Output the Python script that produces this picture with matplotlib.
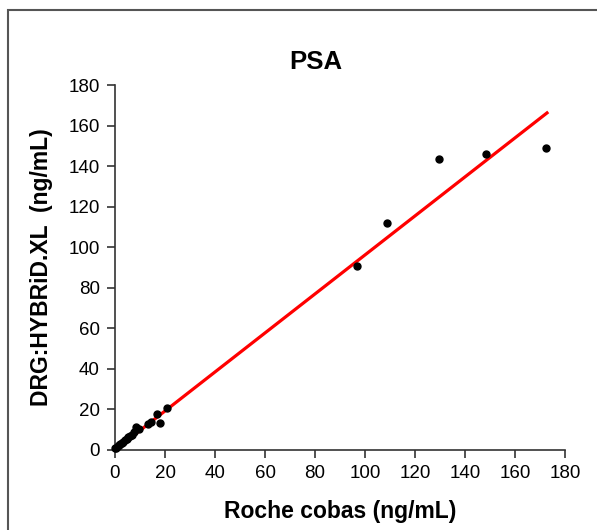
import numpy as np
import matplotlib
matplotlib.use('Agg')
import matplotlib.pyplot as plt
from matplotlib.patches import Rectangle

plt.rcParams['font.family'] = ['Liberation Sans', 'DejaVu Sans']

# Roche cobas vs DRG:HYBRiD.XL (ng/mL)
roche = [0.1, 0.5, 1.0, 1.5, 2.0, 2.6, 3.2, 4.0, 4.6, 5.2, 6.0, 6.8, 7.4, 8.4, 9.6,
         13.0, 14.2, 16.8, 17.9, 20.8, 96.8, 108.8, 129.6, 148.4, 172.4]
hybrid = [0.8, 1.0, 1.8, 2.4, 2.8, 3.4, 4.0, 4.8, 5.3, 6.2, 7.0, 7.6, 8.8, 11.2, 10.4,
          12.6, 13.8, 18.0, 13.2, 20.8, 90.5, 111.8, 143.4, 145.9, 148.9]

# regression line
slope = 0.962
intercept = 0.0
fit_x = [0, 172.8]

ticks = [0, 20, 40, 60, 80, 100, 120, 140, 160, 180]

fig = plt.figure(figsize=(5.97, 5.30), dpi=100)
fig.patches.append(Rectangle((8 / 597, -0.1), 1.2, 1 - 10 / 530 + 0.1,
                             transform=fig.transFigure, fill=False,
                             edgecolor='#555555', linewidth=1.5))

ax = fig.add_axes([115 / 597, 1 - 450 / 530, 450 / 597, 365 / 530])
ax.plot(fit_x, [slope * v + intercept for v in fit_x], color='#ff0000', linewidth=2.3, zorder=3)
ax.plot(roche, hybrid, 'o', color='black', markersize=5, zorder=4, clip_on=False)

ax.set_xlim(0, 180)
ax.set_ylim(0, 180)
ax.set_xticks(ticks)
ax.set_yticks(ticks)
ax.spines['top'].set_visible(False)
ax.spines['right'].set_visible(False)
for s in ['left', 'bottom']:
    ax.spines[s].set_color('#333333')
    ax.spines[s].set_linewidth(1.2)
ax.tick_params(direction='out', length=6, width=1.2, color='#333333',
               labelsize=13.5, pad=5)

fig.text(316 / 597, 1 - 62 / 530, 'PSA', fontsize=18.5, fontweight='bold',
         ha='center', va='center')
ax.set_xlabel('Roche cobas (ng/mL)', fontsize=16.5, fontweight='bold', labelpad=13)
ax.set_ylabel('DRG:HYBRiD.XL  (ng/mL)', fontsize=16.5, fontweight='bold', labelpad=11)

fig.savefig('out.png', dpi=100)
